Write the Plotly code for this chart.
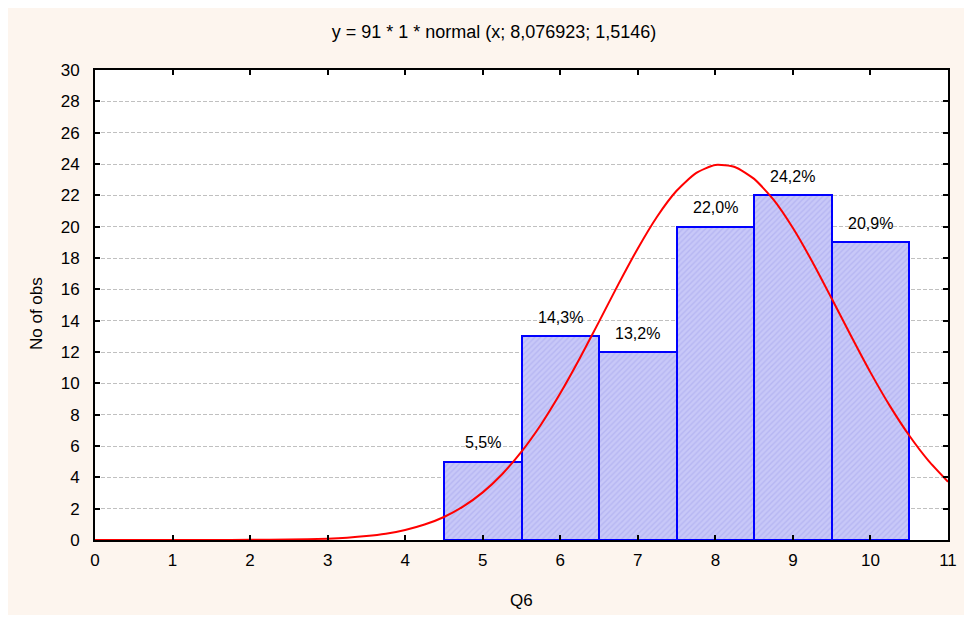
import plotly.graph_objects as go

# Histogram data
bins = [5, 6, 7, 8, 9, 10]
counts = [5, 13, 12, 20, 22, 19]
pct_labels = ["5,5%", "14,3%", "13,2%", "22,0%", "24,2%", "20,9%"]

# Fitted normal curve values (y = 91*1*normal(x; 8.076923; 1.5146))
curve_x = [0, 0.5, 1, 1.5, 2, 2.5, 3, 3.25, 3.5, 3.75, 4, 4.25, 4.5, 4.75,
           5, 5.25, 5.5, 5.75, 6, 6.25, 6.5, 6.75, 7, 7.25, 7.5, 7.75,
           8, 8.25, 8.5, 8.75, 9, 9.25, 9.5, 9.75, 10, 10.25, 10.5, 10.75, 11]
curve_y = [0.0, 0.0001, 0.0004, 0.002, 0.008, 0.027, 0.087, 0.149, 0.25, 0.405,
           0.64, 0.985, 1.47, 2.147, 3.04, 4.20, 5.64, 7.36, 9.36, 11.58,
           13.94, 16.33, 18.61, 20.65, 22.29, 23.42, 23.94, 23.81, 23.05, 21.72,
           19.91, 17.76, 15.41, 13.02, 10.70, 8.56, 6.67, 5.05, 3.72]

x_ticks = list(range(0, 12))
y_ticks = list(range(0, 31, 2))

title_text = "y = 91 * 1 * normal (x; 8,076923; 1,5146)"
x_title = "Q6"
y_title = "No of obs"

FONT = "Liberation Sans, Arial, sans-serif"

fig = go.Figure()

fig.add_trace(go.Bar(
    x=bins, y=counts, width=1.0,
    marker=dict(
        color="#c6c6f6",
        line=dict(color="#0000ff", width=2),
        pattern=dict(shape="/", fgcolor="#a4a4ec", bgcolor="#c8c8f8",
                     size=4, solidity=0.35),
    ),
    showlegend=False, hoverinfo="skip",
))

fig.add_trace(go.Scatter(
    x=curve_x, y=curve_y, mode="lines",
    line=dict(color="#ff0000", width=2, shape="spline", smoothing=0.6),
    showlegend=False, hoverinfo="skip", cliponaxis=False,
))

for xv, yv, lab in zip(bins, counts, pct_labels):
    fig.add_annotation(x=xv, y=yv, text=lab, showarrow=False,
                       yshift=19, yanchor="middle",
                       font=dict(family=FONT, size=16, color="#000"))

# axis titles
fig.add_annotation(text=y_title, xref="paper", yref="paper",
                   x=(28 - 87) / 853, y=(532 - 306) / 470,
                   xanchor="center", yanchor="middle", textangle=-90,
                   showarrow=False, font=dict(family=FONT, size=17, color="#000"))
fig.add_annotation(text=x_title, xref="paper", yref="paper",
                   x=0.5, y=(532 - 592) / 470,
                   xanchor="center", yanchor="middle",
                   showarrow=False, font=dict(family=FONT, size=17, color="#000"))

axis_common = dict(
    showline=True, linecolor="#000", linewidth=2, mirror="ticks",
    ticks="inside", ticklen=5, tickwidth=2, tickcolor="#000",
    tickfont=dict(family=FONT, size=17, color="#000"),
    zeroline=False,
)

fig.update_xaxes(range=[0, 11], tickvals=x_ticks, showgrid=False,
                 ticklabelstandoff=4, **axis_common)
fig.update_yaxes(range=[0, 30], tickvals=y_ticks, showgrid=True,
                 gridcolor="#c0c0c0", griddash="4px,2px", gridwidth=1,
                 ticklabelstandoff=10, **axis_common)

fig.update_layout(
    width=972, height=607,
    margin=dict(l=87, r=32, t=62, b=75),
    paper_bgcolor="#fdf5ee", plot_bgcolor="#ffffff",
    bargap=0,
    title=dict(text=title_text, x=0.5, xref="container", xanchor="center",
               y=1 - 24 / 607, yanchor="middle",
               font=dict(family=FONT, size=18, color="#000")),
    font=dict(family=FONT),
)

fig.write_html("out.html")
